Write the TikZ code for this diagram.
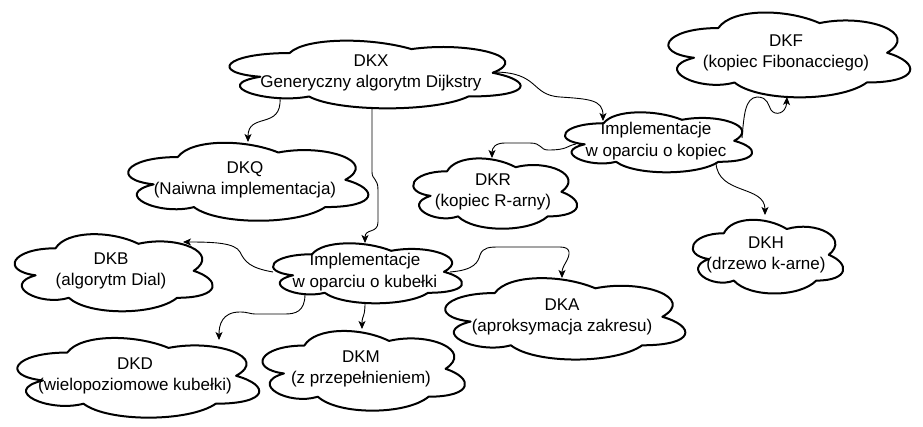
\documentclass[tikz,border=0pt]{standalone}
\usepackage{fontspec}
\setmainfont{Liberation Sans}
\usetikzlibrary{arrows.meta}
\tikzset{
  cnode/.style={rectangle, draw=none, inner sep=0pt, align=center,
    font=\fontsize{17}{21.5}\selectfont},
  cloudline/.style={line width=2pt, line join=round},
  conn/.style={line width=0.9pt, -{Stealth[length=8pt,width=7pt,inset=2pt]}},
}
\newcommand\mxcloud[3]{%
  \begin{scope}[shift={(#1.north west)}, x=#2pt, y=-#3pt]
    \draw[cloudline] (0.25,0.25) .. controls (0.05,0.25) and (0,0.5) .. (0.16,0.55)
      .. controls (0,0.66) and (0.18,0.9) .. (0.31,0.8)
      .. controls (0.4,1) and (0.7,1) .. (0.8,0.8)
      .. controls (1,0.8) and (1,0.6) .. (0.875,0.5)
      .. controls (1,0.3) and (0.8,0.1) .. (0.625,0.2)
      .. controls (0.5,0.05) and (0.3,0.05) .. (0.25,0.25) -- cycle;
  \end{scope}}
\begin{document}
\begin{tikzpicture}[x=1pt, y=-1pt]
\useasboundingbox (0,0) rectangle (923,427);
% nodes
\node[cnode, minimum width=325pt, minimum height=79pt] (DKX) at (371,73) {DKX\\Generyczny algorytm Dijkstry};
\node[cnode, minimum width=270pt, minimum height=99pt] (DKF) at (786,53) {DKF\\(kopiec Fibonacciego)};
\node[cnode, minimum width=209pt, minimum height=70pt] (IKO) at (656,141) {Implementacje\\w oparciu o kopiec};
\node[cnode, minimum width=268pt, minimum height=91pt] (DKQ) at (245,180) {DKQ\\(Naiwna implementacja)};
\node[cnode, minimum width=183pt, minimum height=82pt] (DKR) at (493,192) {DKR\\(kopiec R-arny)};
\node[cnode, minimum width=221pt, minimum height=90pt] (DKB) at (111,271) {DKB\\(algorytm Dial)};
\node[cnode, minimum width=211pt, minimum height=70pt] (IKU) at (365,272) {Implementacje\\w oparciu o kubełki};
\node[cnode, minimum width=268pt, minimum height=95pt] (DKA) at (562,317) {DKA\\(aproksymacja zakresu)};
\node[cnode, minimum width=168pt, minimum height=86pt] (DKH) at (766,255) {DKH\\(drzewo k-arne)};
\node[cnode, minimum width=270pt, minimum height=93pt] (DKD) at (135,376) {DKD\\(wielopoziomowe kubełki)};
\node[cnode, minimum width=226pt, minimum height=93pt] (DKM) at (361,369) {DKM\\(z przepełnieniem)};
% cloud outlines
\mxcloud{DKX}{325}{79}
\mxcloud{DKF}{270}{99}
\mxcloud{IKO}{209}{70}
\mxcloud{DKQ}{268}{91}
\mxcloud{DKR}{183}{82}
\mxcloud{DKB}{221}{90}
\mxcloud{IKU}{211}{70}
\mxcloud{DKA}{268}{95}
\mxcloud{DKH}{168}{86}
\mxcloud{DKD}{270}{93}
\mxcloud{DKM}{226}{93}
% connectors
\draw[conn] ([shift={(-91,25)}]DKX.center) .. controls (282,130) and (248,112) .. ([shift={(3,-38)}]DKQ.center);
\draw[conn] ([shift={(1,34)}]DKX.center) -- (372,172) .. controls (372,180) and (378,178) .. (378,190) -- (378,222) .. controls (378,234) and (365,228) .. ([shift={(0,-29)}]IKU.center);
\draw[conn] ([shift={(122,-1)}]DKX.center) .. controls (540,72) and (530,95) .. (560,97) .. controls (590,99) and (603,100) .. ([shift={(-53,-20)}]IKO.center);
\draw[conn] ([shift={(-80,3)}]IKO.center) .. controls (566,146) and (568,150) .. (548,150) .. controls (540,150) and (542,143) .. (530,143) -- (505,143) .. controls (495,143) and (492,148) .. ([shift={(-1,-34)}]DKR.center);
\draw[conn] ([shift={(86,-3)}]IKO.center) .. controls (744,115) and (745,98) .. (757,97) .. controls (768,97) and (768,105) .. (771,110) .. controls (775,116) and (786,114) .. ([shift={(1,44)}]DKF.center);
\draw[conn] ([shift={(60,22)}]IKO.center) .. controls (718,195) and (765,185) .. ([shift={(-1,-40)}]DKH.center);
\draw[conn] ([shift={(-92,0)}]IKU.center) .. controls (250,268) and (245,262) .. (240,252) .. controls (235,243) and (215,242) .. ([shift={(72,-29)}]DKB.center);
\draw[conn] ([shift={(85,0)}]IKU.center) .. controls (475,270) and (478,262) .. (480,255) .. controls (483,247) and (490,247) .. (500,247) -- (560,247) .. controls (572,247) and (570,255) .. (566,262) .. controls (563,267) and (562,270) .. ([shift={(0,-39)}]DKA.center);
\draw[conn] ([shift={(-60,22)}]IKU.center) .. controls (305,312) and (295,314) .. (285,314) -- (255,314) .. controls (250,314) and (248,312) .. (240,312) .. controls (222,312) and (219,325) .. ([shift={(84,-36)}]DKD.center);
\draw[conn] ([shift={(0,31)}]IKU.center) .. controls (365,318) and (362,315) .. ([shift={(1,-40)}]DKM.center);
\end{tikzpicture}
\end{document}
